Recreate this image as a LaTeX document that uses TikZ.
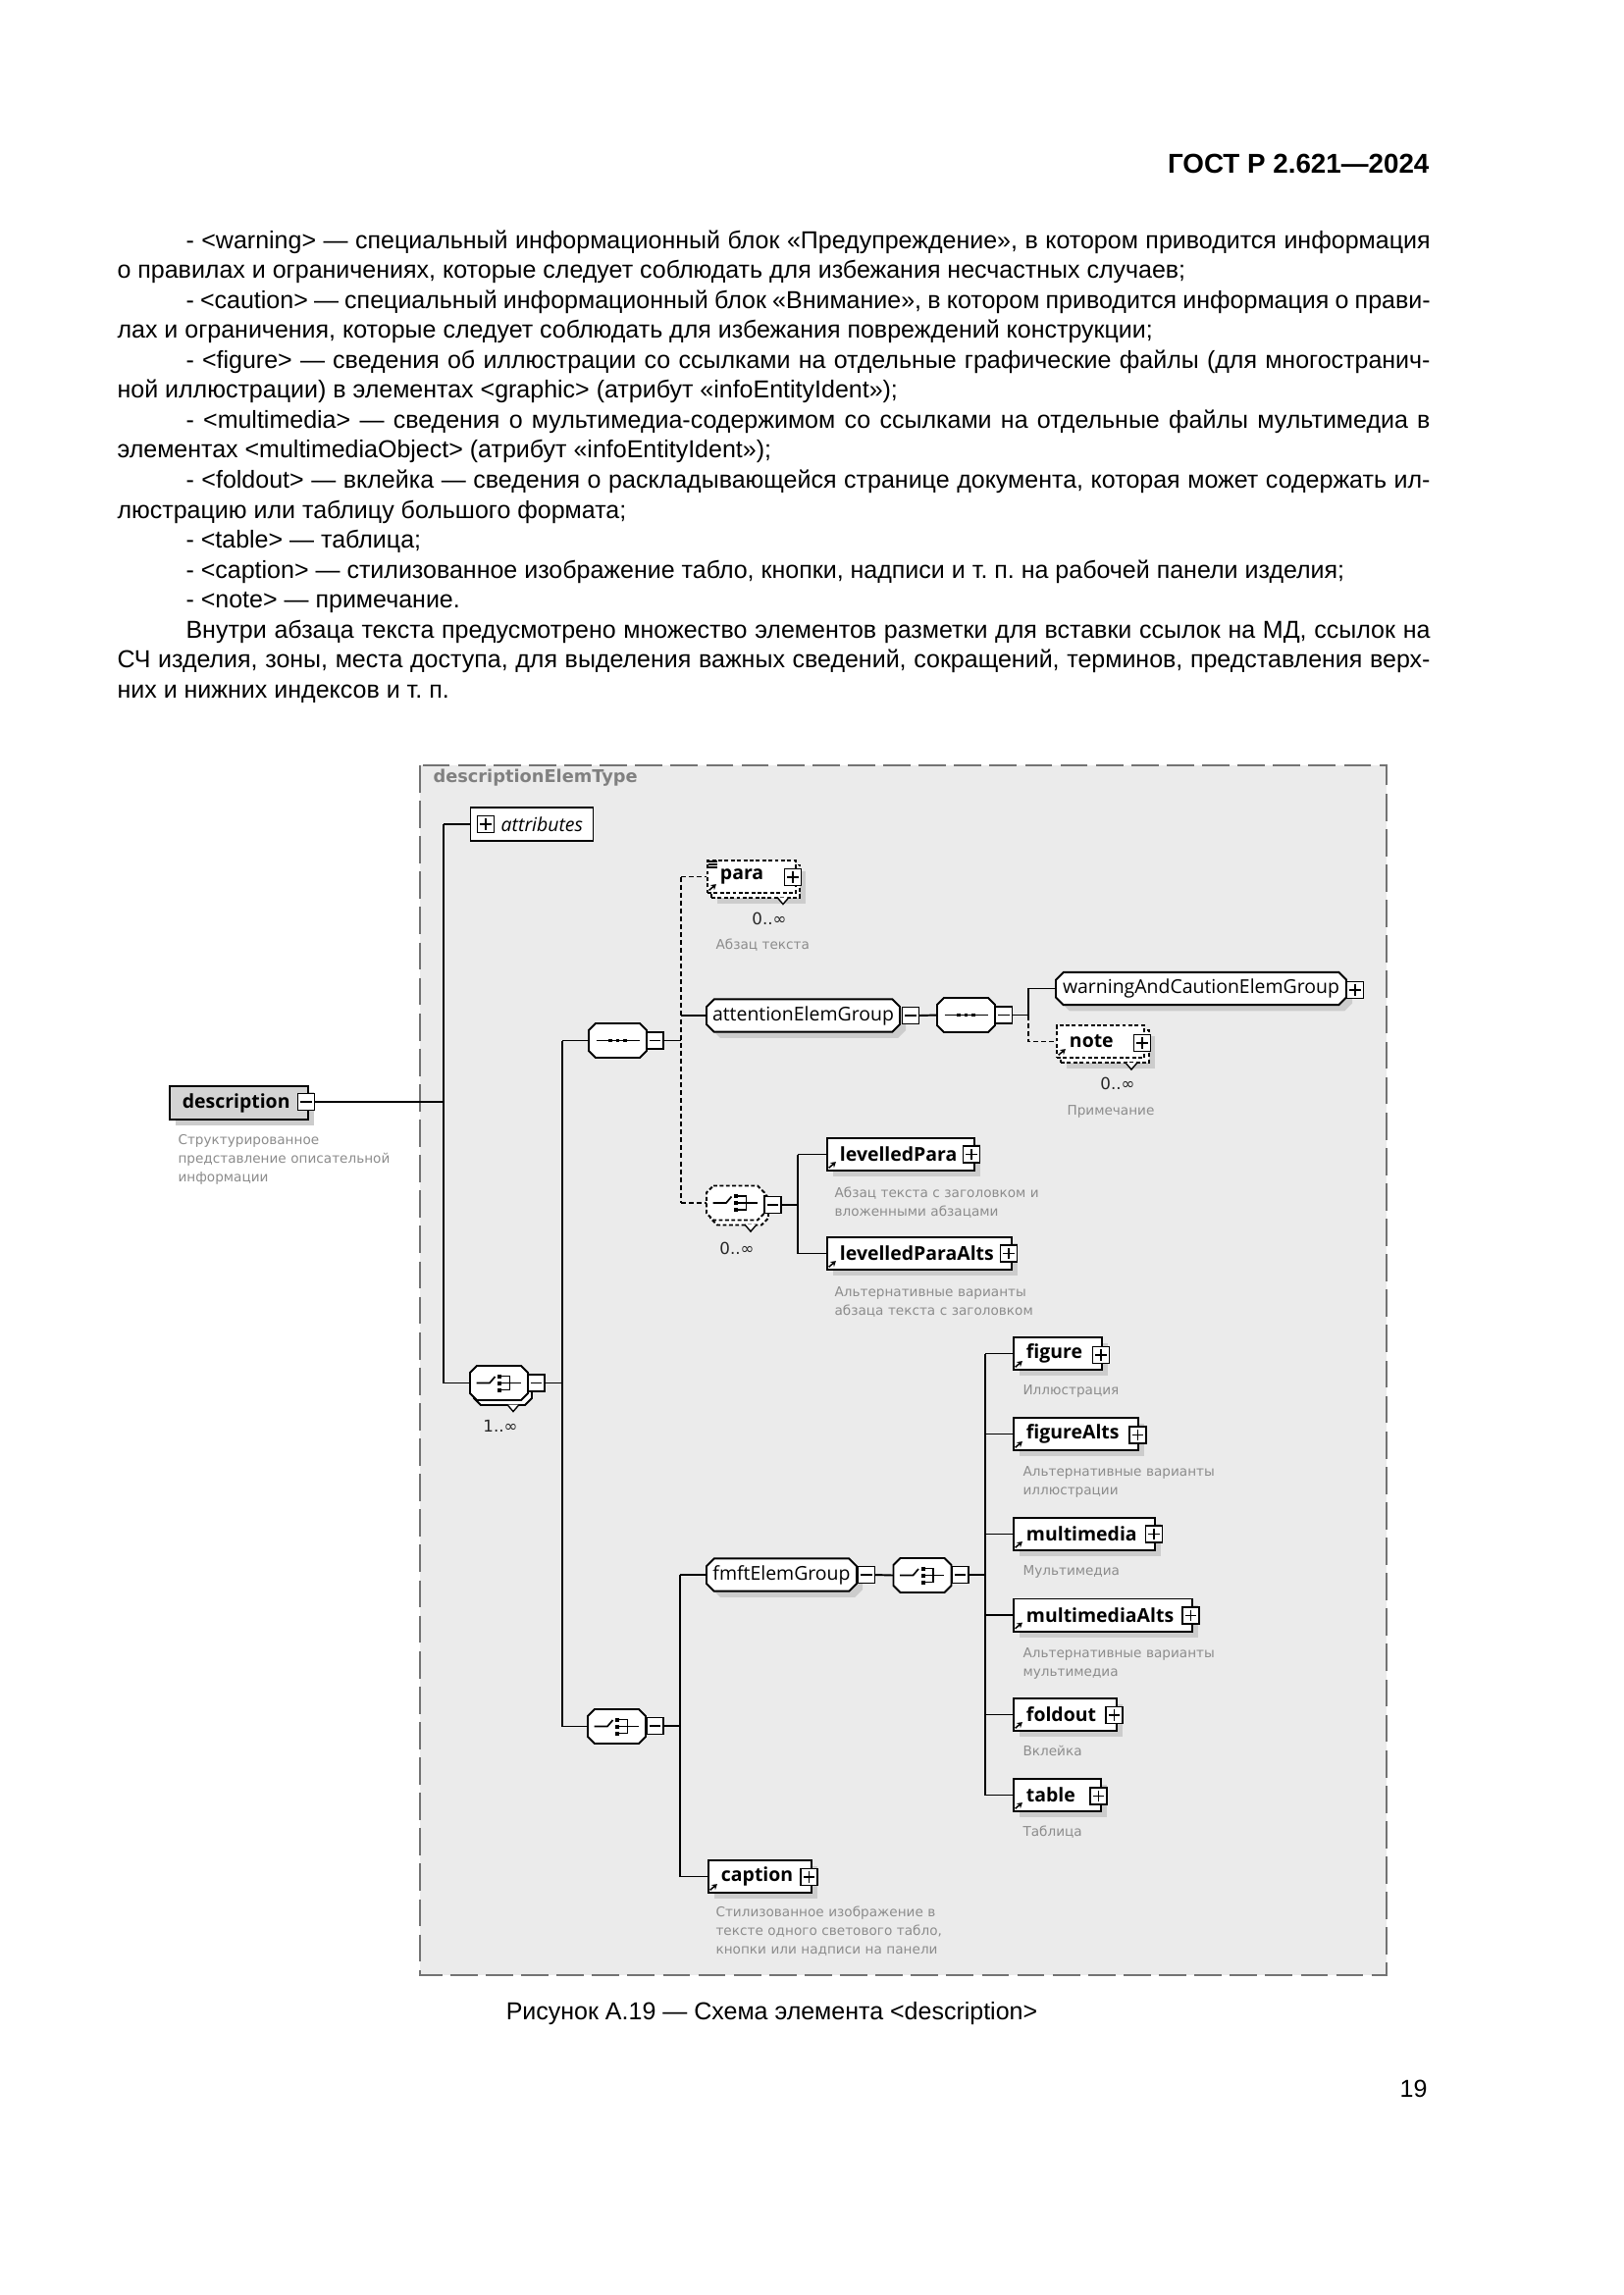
\documentclass[tikz,border=0pt]{standalone}
\usepackage{fontspec}
\setmainfont{Liberation Sans}
\newfontfamily\dgfont{Open Sans}
\newfontfamily\dgnote{DejaVu Sans}
\usetikzlibrary{shapes.misc,shadows,arrows.meta,calc}
\newlength\pxu
\setlength\pxu{0.36pt}

\begin{document}
\begin{tikzpicture}[x=0.36pt, y=-0.36pt,
  boxshadow/.style={drop shadow={shadow xshift=2.2pt,shadow yshift=-2.2pt,fill=black!20,opacity=1}},
  pshadow/.style={preaction={fill=black!20,transform canvas={shift={(2.2pt,-2.2pt)}}}},
  conn/.style={line width=0.7pt},
  thinconn/.style={line width=0.45pt},
  optconn/.style={line width=0.45pt,dash pattern=on 1.8pt off 1.1pt},
  dashbox/.style={dash pattern=on 1.4pt off 0.9pt},
  namefont/.style={font=\dgfont\bfseries\fontsize{7}{8}\selectfont},
  refarrow/.style={path picture={\draw[solid,line width=0.55pt,-{Stealth[length=1.9pt,width=2.3pt]}]
      ([shift={(0.6pt,1.0pt)}]path picture bounding box.south west) -- ++(2.6pt,2.2pt);}},
  ew/.style={text width=#1*\pxu},
  stackbox/.style={draw,line width=0.7pt,fill=white,minimum height=11.9pt,inner sep=0pt,anchor=west},
  elembox/.style={stackbox,align=left,namefont,refarrow},
  refbox/.style={elembox,boxshadow},
  grpbox/.style={chamfered rectangle,chamfered rectangle xsep=1.4pt,chamfered rectangle ysep=1.4pt,
      draw,line width=0.7pt,fill=white,minimum height=12pt,inner sep=0pt,
      font=\dgfont\fontsize{7}{8}\selectfont,boxshadow},
  compbox/.style={rectangle,minimum width=21.2pt,minimum height=12.6pt,inner sep=0pt},
  pmbox/.style={draw,solid,line width=0.45pt,fill=white,minimum size=6.1pt,inner sep=0pt},
  minusbox/.style={pmbox,path picture={\draw[line width=0.45pt]
      ([xshift=1pt]path picture bounding box.west) -- ([xshift=-1pt]path picture bounding box.east);}},
  plusbox/.style={pmbox,path picture={\draw[line width=0.45pt]
      ([xshift=1pt]path picture bounding box.west) -- ([xshift=-1pt]path picture bounding box.east)
      ([yshift=1pt]path picture bounding box.south) -- ([yshift=-1pt]path picture bounding box.north);}},
  desctext/.style={anchor=base west,align=left,text width=110pt,inner sep=0pt,text=black!45,
      font=\dgnote\fontsize{4.9}{7}\selectfont},
  occtext/.style={inner sep=0pt,text=black!85,font=\dgnote\fontsize{6}{7}\selectfont},
  chev/.style={solid,line width=0.5pt,fill=white},
  bodytext/.style={anchor=base west,inner sep=0pt,text width=1338*\pxu,align=justify,
      font=\fontsize{9}{11}\selectfont},
  octa/.pic={
    \path[draw,fill=white,line width=0.7pt] (-22.5,-17.5) -- (22.5,-17.5) -- (29.5,-10.5) -- (29.5,10.5)
      -- (22.5,17.5) -- (-22.5,17.5) -- (-29.5,10.5) -- (-29.5,-10.5) -- cycle;
  },
  seqmark/.pic={
    \draw[line width=0.6pt] (-22,0) -- (22,0);
    \foreach \d in {-7.5,0,7.5} \fill (\d-1.8,-1.8) rectangle ++(3.6,3.6);
  },
  choicemark/.pic={
    \draw[line width=0.6pt] (-23,0) -- (-9.5,0) -- (-4,-6.5);
    \foreach \d in {-7,0,7} \fill (-1.5,\d-2) rectangle ++(4,4);
    \draw[line width=0.5pt] (2.5,-7) -- (11,-7) -- (11,7) -- (2.5,7) (2.5,0) -- (22,0);
  }]
\fill[white] (0,0) rectangle (1654,2339);
\useasboundingbox (0,0) rectangle (1654,2339);

% page text
\node[anchor=base east,inner sep=0pt,font=\bfseries\fontsize{10}{12}\selectfont] (head) at (1457,176) {ГОСТ Р 2.621—2024};
\node[bodytext] (body) at (119,253) {\setlength\parindent{70\pxu}\frenchspacing
\hyphenpenalty=10000 \exhyphenpenalty=10000
\indent - <warning> — специальный информационный блок «Предупреждение», в котором приводится информация\break
о правилах и ограничениях, которые следует соблюдать для избежания несчастных случаев;\par
- <caution> — специальный информационный блок «Внимание», в котором приводится информация о прави-\break
лах и ограничения, которые следует соблюдать для избежания повреждений конструкции;\par
- <figure> — сведения об иллюстрации со ссылками на отдельные графические файлы (для многостранич-\break
ной иллюстрации) в элементах <graphic> (атрибут «infoEntityIdent»);\par
- <multimedia> — сведения о мультимедиа-содержимом со ссылками на отдельные файлы мультимедиа в\break
элементах <multimediaObject> (атрибут «infoEntityIdent»);\par
- <foldout> — вклейка — сведения о раскладывающейся странице документа, которая может содержать ил-\break
люстрацию или таблицу большого формата;\par
- <table> — таблица;\par
- <caption> — стилизованное изображение табло, кнопки, надписи и т. п. на рабочей панели изделия;\par
- <note> — примечание.\par
Внутри абзаца текста предусмотрено множество элементов разметки для вставки ссылок на МД, ссылок на\break
СЧ изделия, зоны, места доступа, для выделения важных сведений, сокращений, терминов, представления верх-\break
них и нижних индексов и т. п.};

% diagram frame
\draw[black!55,fill=black!8,line width=0.45pt,dash pattern=on 10pt off 3pt] (428,780) rectangle (1413,2013);
\node[anchor=base west,inner sep=0pt,text=black!50,font=\dgnote\bfseries\fontsize{6.4}{8}\selectfont] (typename) at (441,797) {descriptionElemType};

\coordinate (trA) at (452,0);
\coordinate (trB) at (573,0);
\coordinate (trC) at (694,0);
\coordinate (trD) at (1048,0);
\coordinate (trE) at (813,0);
\coordinate (trF) at (693,0);
\coordinate (trG) at (1004,0);

% root element
\node[stackbox,fill=black!17,line width=0.6pt,align=left,namefont,ew=141,minimum height=12.2pt,boxshadow] (desc) at (172,1124) {\hspace*{13\pxu}description};
\node[minusbox] (desc-pm) at (312,1123) {};
\node[desctext] (desc-d) at (181,1166) {Структурированное\\представление описательной\\информации};

\node[draw,line width=0.5pt,fill=white,minimum height=12.2pt,inner sep=0pt,anchor=west,align=left,ew=125,
  font=\dgfont\itshape\fontsize{7}{8}\selectfont] (attr) at (479,840) {\hspace*{31\pxu}attributes};
\node[plusbox] (attr-pm) at (495,840) {};

% compositors
\node[compbox] (c1back) at (512.5,1414.5) {};
\pic[pshadow] at (c1back) {octa};
\node[compbox] (c1) at (508.5,1409.5) {};
\pic at (c1) {octa};
\pic at (c1) {choicemark};
\node[minusbox] (c1-pm) at (546.5,1409.5) {};
\filldraw[chev] ([shift={(4.5,-1)}]c1back.south) -- ++(6,7) -- ++(6,-7);
\node[occtext] (c1-occ) at (510,1453) {1..∞};

\node[compbox] (s1) at (629.5,1060.5) {};
\pic[pshadow] at (s1) {octa};
\pic at (s1) {seqmark};
\node[minusbox] (s1-pm) at (667.5,1060.5) {};

\node[compbox] (c2) at (628.5,1759.5) {};
\pic[pshadow] at (c2) {octa};
\pic at (c2) {choicemark};
\node[minusbox] (c2-pm) at (667.5,1759) {};

% para
\node[stackbox,dashbox,ew=90,boxshadow] (paraback) at (724,898) {};
\node[elembox,dashbox,ew=90] (para) at (720,893.5) {\hspace*{13\pxu}para};
\draw[line width=0.4pt] ([shift={(2,2)}]para.north west) -- ++(9,0) ++(-9,3) -- ++(9,0) ++(-9,3) -- ++(9,0);
\node[plusbox] (para-pm) at (808,894) {};
\filldraw[chev] ([shift={(22,-1)}]paraback.south) -- ++(6,7) -- ++(6,-7);
\node[occtext] (para-occ) at (784,936) {0..∞};
\node[desctext] (para-d) at (729,967) {Абзац текста};

% attention group
\node[grpbox,minimum width=197*\pxu] (att) at (818.5,1035) {attentionElemGroup};
\node[minusbox] (att-pm) at (928,1035) {};
\node[compbox] (s2) at (984.5,1034.5) {};
\pic[pshadow] at (s2) {octa};
\pic at (s2) {seqmark};
\node[minusbox] (s2-pm) at (1023,1034.5) {};
\node[grpbox,minimum width=296*\pxu] (warn) at (1224,1007.5) {warningAndCautionElemGroup};
\node[plusbox] (warn-pm) at (1381,1009) {};
\node[stackbox,dashbox,ew=90,boxshadow] (noteback) at (1080,1066.5) {};
\node[elembox,dashbox,ew=89] (note) at (1076,1061.5) {\hspace*{13\pxu}note};
\node[plusbox] (note-pm) at (1164,1063) {};
\filldraw[chev] ([shift={(21,-1)}]noteback.south) -- ++(6,7) -- ++(6,-7);
\node[occtext] (note-occ) at (1139,1104) {0..∞};
\node[desctext] (note-d) at (1087,1136) {Примечание};

% levelled choice
\node[compbox] (c4back) at (753.5,1231) {};
\pic[dashbox,pshadow] at (c4back) {octa};
\node[compbox] (c4) at (749.5,1226) {};
\pic[dashbox] at (c4) {octa};
\pic at (c4) {choicemark};
\node[minusbox] (c4-pm) at (787.5,1228) {};
\filldraw[chev] ([shift={(5.5,-1)}]c4back.south) -- ++(6,7) -- ++(6,-7);
\node[occtext] (c4-occ) at (751,1272) {0..∞};
\node[refbox,ew=150] (lp) at (842,1176.5) {\hspace*{13\pxu}levelledPara};
\node[plusbox] (lp-pm) at (990,1176.5) {};
\node[desctext] (lp-d) at (850,1220) {Абзац текста с заголовком и\\вложенными абзацами};
\node[refbox,ew=188] (lpa) at (842,1277.5) {\hspace*{13\pxu}levelledParaAlts};
\node[plusbox] (lpa-pm) at (1028,1277.5) {};
\node[desctext] (lpa-d) at (850,1321) {Альтернативные варианты\\абзаца текста с заголовком};

% fmft group
\node[grpbox,minimum width=153*\pxu] (fmft) at (796.5,1605) {fmftElemGroup};
\node[minusbox] (fmft-pm) at (883,1605) {};
\node[compbox] (c3) at (940,1605.5) {};
\pic[pshadow] at (c3) {octa};
\pic at (c3) {choicemark};
\node[minusbox] (c3-pm) at (978.5,1605) {};

\node[refbox,ew=90] (fig) at (1032,1379.5) {\hspace*{13\pxu}figure};
\node[plusbox] (fig-pm) at (1122,1381) {};
\node[desctext] (fig-d) at (1042,1421) {Иллюстрация};
\node[refbox,ew=127] (figalt) at (1032,1461.5) {\hspace*{13\pxu}figureAlts};
\node[plusbox] (figalt-pm) at (1159.5,1462.5) {};
\node[desctext] (figalt-d) at (1042,1504) {Альтернативные варианты\\иллюстрации};
\node[refbox,ew=144] (mm) at (1032,1563.5) {\hspace*{13\pxu}multimedia};
\node[plusbox] (mm-pm) at (1176,1563.5) {};
\node[desctext] (mm-d) at (1042,1605) {Мультимедиа};
\node[refbox,ew=182] (mmalt) at (1032,1646) {\hspace*{13\pxu}multimediaAlts};
\node[plusbox] (mmalt-pm) at (1213.5,1646.5) {};
\node[desctext] (mmalt-d) at (1042,1689) {Альтернативные варианты\\мультимедиа};
\node[refbox,ew=105] (fold) at (1032,1747.5) {\hspace*{13\pxu}foldout};
\node[plusbox] (fold-pm) at (1135.5,1748) {};
\node[desctext] (fold-d) at (1042,1789) {Вклейка};
\node[refbox,ew=89] (tab) at (1032,1829.5) {\hspace*{13\pxu}table};
\node[plusbox] (tab-pm) at (1119.5,1830.5) {};
\node[desctext] (tab-d) at (1042,1871) {Таблица};

\node[refbox,ew=105] (cap) at (721,1912.5) {\hspace*{13\pxu}caption};
\node[plusbox] (cap-pm) at (824.5,1913) {};
\node[desctext] (cap-d) at (729,1953) {Стилизованное изображение в\\тексте одного светового табло,\\кнопки или надписи на панели};

% connectors
\draw[thinconn] (desc-pm.east) -- (trA |- desc-pm.east);
\draw[thinconn] (trA |- attr.west) -- (trA |- c1.west);
\draw[thinconn] (trA |- attr.west) -- (attr.west);
\draw[conn] (trA |- c1.west) -- (c1.west);
\draw[conn] (c1-pm.east) -- (trB |- c1-pm.east);
\draw[conn] (trB |- s1.west) -- (trB |- c2.west);
\draw[conn] (trB |- s1.west) -- (s1.west);
\draw[conn] (trB |- c2.west) -- (c2.west);
\draw[conn] (s1-pm.east) -- (trC |- s1-pm.east);
\draw[optconn] (trC |- para.west) -- (trC |- c4.west);
\draw[optconn] (trC |- para.west) -- (para.west);
\draw[conn] (trC |- att.west) -- (att.west);
\draw[optconn] (trC |- c4.west) -- (c4.west);
\draw[conn] (att-pm.east) -- (s2.west);
\draw[conn] (s2-pm.east) -- (trD |- s2-pm.east) -- (trD |- warn.west) -- (warn.west);
\draw[optconn] (trD |- s2-pm.east) -- (trD |- note.west) -- (note.west);
\draw[conn] (c4-pm.east) -- (trE |- c4-pm.east);
\draw[conn] (trE |- lp.west) -- (trE |- lpa.west);
\draw[conn] (trE |- lp.west) -- (lp.west);
\draw[conn] (trE |- lpa.west) -- (lpa.west);
\draw[thinconn] (c2-pm.east) -- (trF |- c2-pm.east);
\draw[thinconn] (trF |- fmft.west) -- (trF |- cap.west);
\draw[conn] (trF |- fmft.west) -- (fmft.west);
\draw[conn] (trF |- cap.west) -- (cap.west);
\draw[conn] (fmft-pm.east) -- (c3.west);
\draw[conn] (c3-pm.east) -- (trG |- c3-pm.east);
\draw[conn] (trG |- fig.west) -- (trG |- tab.west);
\foreach \n in {fig,figalt,mm,mmalt,fold,tab}
  \draw[conn] (trG |- \n.west) -- (\n.west);

% caption and page number
\node[anchor=base,inner sep=0pt,font=\fontsize{9}{11}\selectfont] (figcap) at (786.5,2058) {Рисунок А.19 — Схема элемента <description>};
\node[anchor=base east,inner sep=0pt,font=\fontsize{9}{11}\selectfont] (pageno) at (1455,2137) {19};
\end{tikzpicture}
\end{document}
